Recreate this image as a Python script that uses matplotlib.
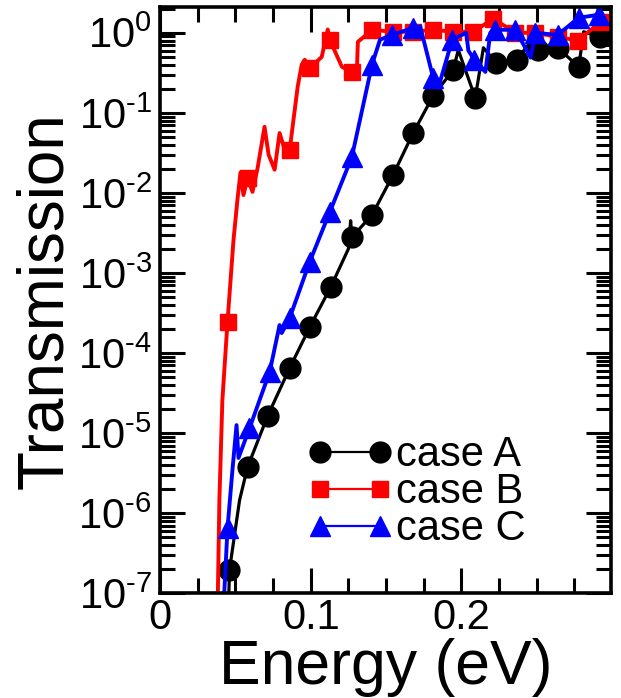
import numpy as np
import matplotlib
matplotlib.use("Agg")
import matplotlib.pyplot as plt
from matplotlib.ticker import FixedLocator, MultipleLocator, LogLocator, FuncFormatter, NullFormatter

plt.rcParams['font.family'] = ['Liberation Sans', 'DejaVu Sans']
plt.rcParams['mathtext.fontset'] = 'custom'
plt.rcParams['mathtext.rm'] = 'Liberation Sans'
plt.rcParams['mathtext.default'] = 'regular'

# case A (black circles)
energy_a = [0.0453, 0.046, 0.0527, 0.058, 0.0713, 0.086, 0.0993, 0.1133, 0.125, 0.1265,
            0.1273, 0.1407, 0.1547, 0.168, 0.1813, 0.1947, 0.198, 0.2093, 0.2147, 0.2233,
            0.2367, 0.246, 0.2507, 0.264, 0.278, 0.2813, 0.292]
trans_a = [6e-8, 1.95e-7, 1.45e-6, 3.76e-6, 1.63e-5, 6.5e-5, 2.1e-4, 6.7e-4, 2.0e-3, 4.5e-3,
           2.8e-3, 5.3e-3, 1.68e-2, 5.6e-2, 0.163, 0.345, 0.61, 0.154, 0.65, 0.42,
           0.46, 0.77, 0.61, 0.65, 0.376, 1.03, 0.89]
marks_a = [1, 3, 4, 5, 6, 7, 10, 11, 12, 13, 14, 15, 17, 19, 20, 22, 23, 24, 26]

# case B (red squares)
energy_b = [0.038, 0.0393, 0.0413, 0.0447, 0.0487, 0.0513, 0.0533, 0.0553, 0.058, 0.0613,
            0.0647, 0.0693, 0.072, 0.076, 0.0793, 0.0827, 0.086, 0.0913, 0.094, 0.096,
            0.0993, 0.1073, 0.1113, 0.1127, 0.1207, 0.1273, 0.1307, 0.1313, 0.1347, 0.1407,
            0.1547, 0.168, 0.1813, 0.1947, 0.208, 0.2213, 0.236, 0.2493, 0.264, 0.2773, 0.2927]
trans_b = [4.6e-8, 1.45e-6, 2.6e-5, 2.45e-4, 2.6e-3, 8.2e-3, 0.018, 0.0094, 0.0154, 0.0103,
           0.0205, 0.067, 0.03, 0.0195, 0.056, 0.0345, 0.0345, 0.211, 0.4, 0.46,
           0.36, 0.5, 1.1, 0.81, 0.376, 0.325, 0.36, 0.77, 0.87, 1.09,
           1.03, 1.03, 1.09, 1.03, 1.03, 1.5, 1.0, 1.0, 0.89, 0.8, 1.37]
marks_b = [3, 8, 16, 20, 23, 25, 29, 30, 31, 32, 33, 34, 35, 36, 37, 38, 39, 40]

# case C (blue triangles)
energy_c = [0.042, 0.0447, 0.048, 0.0507, 0.052, 0.0593, 0.0727, 0.0793, 0.0807, 0.086,
            0.0993, 0.1127, 0.1273, 0.1407, 0.146, 0.154, 0.168, 0.1727, 0.1813, 0.1847,
            0.194, 0.2033, 0.2047, 0.2087, 0.216, 0.2193, 0.2227, 0.236, 0.246, 0.2493,
            0.264, 0.278, 0.2913]
trans_c = [6.3e-8, 6.5e-7, 3.5e-6, 1.26e-5, 4.9e-6, 1.15e-5, 5.8e-5, 2.24e-4, 1.78e-4, 2.74e-4,
           1.38e-3, 5.8e-3, 0.028, 0.4, 0.82, 0.94, 1.15, 1.2, 0.275, 0.205,
           0.82, 1.0, 0.6, 0.46, 0.325, 1.0, 1.09, 1.09, 0.49, 1.0,
           0.94, 1.54, 1.68]
marks_c = [1, 5, 6, 9, 10, 11, 12, 13, 15, 16, 18, 20, 23, 26, 27, 29, 30, 31, 32]

fig = plt.figure(figsize=(6.21, 6.98), dpi=100)
ax = fig.add_axes([0.258, 0.150, 0.726, 0.840])

ax.plot(energy_a, trans_a, color='black', lw=2.3, marker='o', ms=15,
        markevery=marks_a, label='case A')
ax.plot(energy_b, trans_b, color='red', lw=2.8, marker='s', ms=12,
        markevery=marks_b, label='case B')
ax.plot(energy_c, trans_c, color='blue', lw=2.8, marker='^', ms=14,
        markevery=marks_c, label='case C')

ax.set_yscale('log')
ax.set_xlim(0, 0.2995)
ax.set_ylim(1e-7, 2.1)

ax.xaxis.set_major_locator(FixedLocator([0, 0.1, 0.2]))
ax.xaxis.set_minor_locator(MultipleLocator(0.025))
ax.xaxis.set_major_formatter(FuncFormatter(lambda v, p: '0' if abs(v) < 1e-9 else '%.1f' % v))

ax.yaxis.set_major_locator(LogLocator(base=10, numticks=20))
ax.yaxis.set_minor_locator(LogLocator(base=10, subs=np.arange(2, 10), numticks=20))
ax.yaxis.set_minor_formatter(NullFormatter())
ax.yaxis.set_major_formatter(FuncFormatter(lambda v, p: r'$10^{\text{-}%d}$' % round(-np.log10(v))
                                           if v < 0.5 else r'$10^{0}$'))

ax.tick_params(which='both', direction='in', top=True, right=True, width=2.2, labelsize=30)
ax.tick_params(which='major', length=18)
ax.tick_params(which='minor', length=11)
ax.tick_params(axis='y', pad=6)
for s in ax.spines.values():
    s.set_linewidth(2.6)

ax.set_xlabel('Energy (eV)', fontsize=45, labelpad=0)
ax.set_ylabel('Transmission', fontsize=46, labelpad=2)

leg = ax.legend(loc='upper left', bbox_to_anchor=(0.289, 0.298), borderaxespad=0,
                frameon=False, fontsize=30, numpoints=2, handlelength=2.04,
                handletextpad=0.1, labelspacing=-0.07)
for ln in leg.get_lines():
    ln.set_linewidth(1.6)

fig.savefig('out.png', dpi=100)
